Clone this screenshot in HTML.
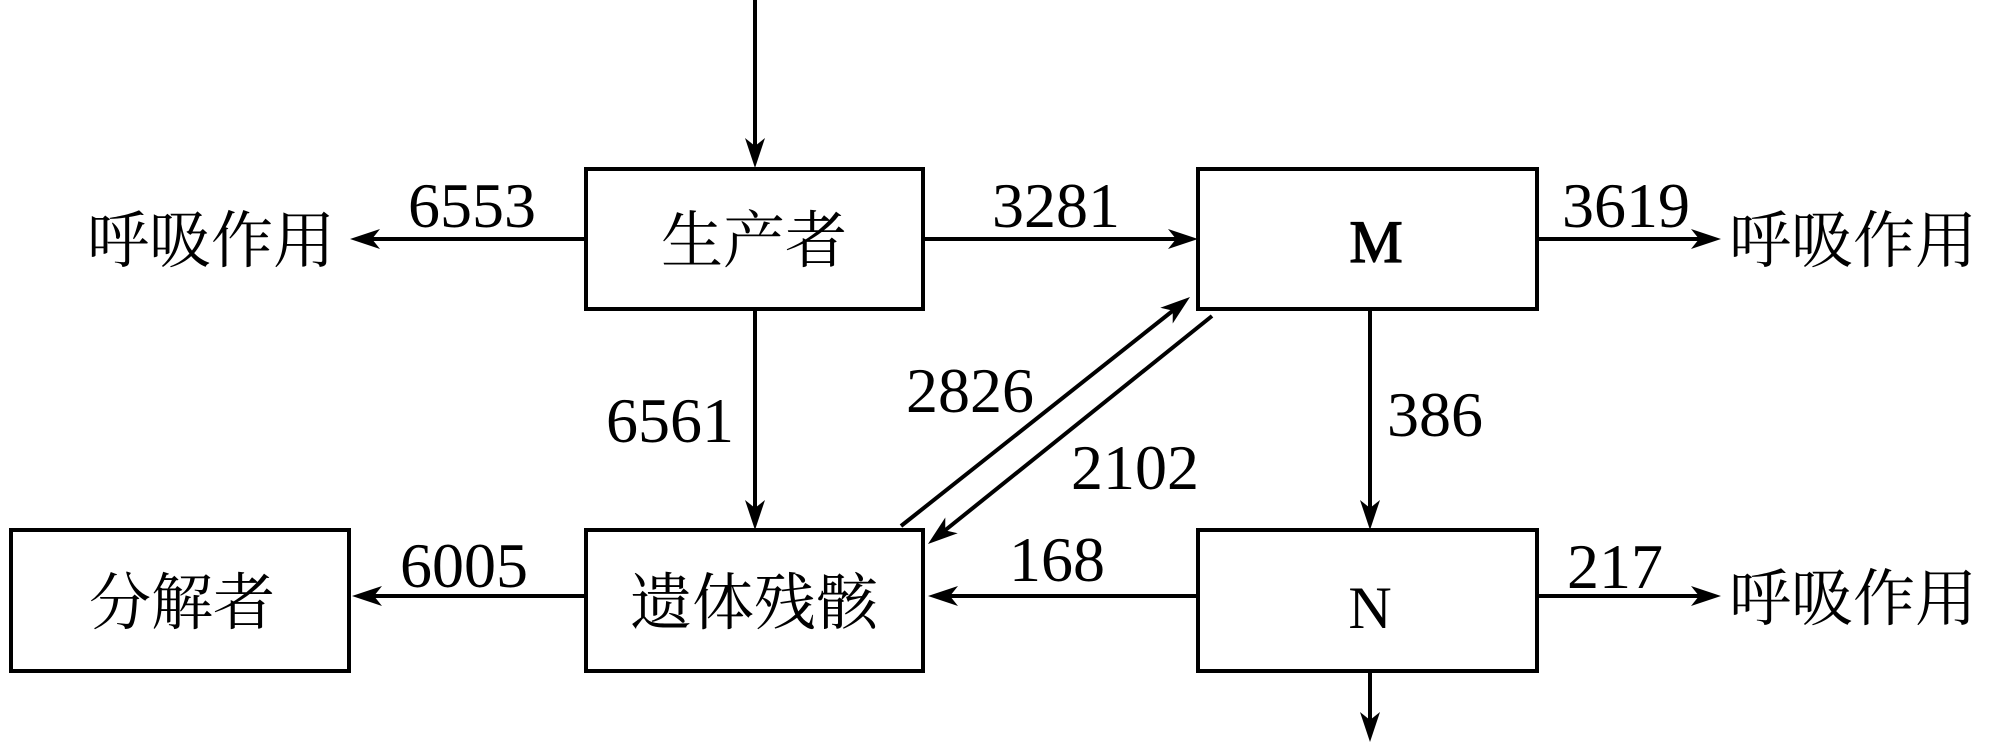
<!DOCTYPE html>
<html><head><meta charset="utf-8"><style>
html,body{margin:0;padding:0;background:#fff;}
svg{display:block;}
text{font-family:"Liberation Serif","Noto Serif CJK SC","Noto Sans CJK SC",serif;fill:#000;}
.cn{font-size:62px;}
.num{font-size:64px;}
</style></head><body>
<svg width="1996" height="750" viewBox="0 0 1996 750" xmlns="http://www.w3.org/2000/svg">
<g stroke="#000" stroke-width="4" fill="none">
<rect x="586" y="169" width="337" height="140"/>
<rect x="1198" y="169" width="339" height="140"/>
<rect x="11" y="530" width="338" height="141"/>
<rect x="586" y="530" width="337" height="141"/>
<rect x="1198" y="530" width="339" height="141"/>
<line x1="755" y1="0" x2="755" y2="150"/>
<line x1="586" y1="239" x2="370" y2="239"/>
<line x1="923" y1="239" x2="1180" y2="239"/>
<line x1="1537" y1="239" x2="1702" y2="239"/>
<line x1="755" y1="309" x2="755" y2="512"/>
<line x1="1370" y1="309" x2="1370" y2="512"/>
<line x1="1198" y1="596" x2="946" y2="596"/>
<line x1="586" y1="596" x2="370" y2="596"/>
<line x1="1537" y1="596" x2="1702" y2="596"/>
<line x1="1370" y1="671" x2="1370" y2="724"/>
<line x1="901" y1="526" x2="1175" y2="309"/>
<line x1="1212" y1="316" x2="943" y2="532"/>
</g>
<g fill="#000">
<polygon points="755,168 745,138 755,146 765,138"/>
<polygon points="350,239 380,229 372,239 380,249"/>
<polygon points="1198,239 1168,229 1176,239 1168,249"/>
<polygon points="1721,239 1691,229 1699,239 1691,249"/>
<polygon points="755,530 745,500 755,508 765,500"/>
<polygon points="1370,530 1360,500 1370,508 1380,500"/>
<polygon points="928,596 958,586 950,596 958,606"/>
<polygon points="352,596 382,586 374,596 382,606"/>
<polygon points="1721,596 1691,586 1699,596 1691,606"/>
<polygon points="1370,742 1360,712 1370,720 1380,712"/>
<g transform="translate(1190,297) rotate(-38.4)"><polygon points="0,0 -30,-10 -22,0 -30,10"/></g>
<g transform="translate(928,544) rotate(141.6)"><polygon points="0,0 -30,-10 -22,0 -30,10"/></g>
</g>
<g class="cn">
<text x="754" y="262" text-anchor="middle">生产者</text>
<text x="754" y="624" text-anchor="middle">遗体残骸</text>
<text x="182" y="624" text-anchor="middle">分解者</text>
<text x="211" y="262" text-anchor="middle">呼吸作用</text>
<text x="1853" y="262" text-anchor="middle">呼吸作用</text>
<text x="1853" y="620" text-anchor="middle">呼吸作用</text>
</g>
<g class="num">
<text x="1376" y="262" text-anchor="middle" font-size="60" stroke="#000" stroke-width="1.2">M</text>
<text x="1370" y="628" text-anchor="middle" font-size="60">N</text>
<text x="472" y="227" text-anchor="middle">6553</text>
<text x="1056" y="227" text-anchor="middle">3281</text>
<text x="1626" y="227" text-anchor="middle">3619</text>
<text x="670" y="442" text-anchor="middle">6561</text>
<text x="970" y="412" text-anchor="middle">2826</text>
<text x="1135" y="489" text-anchor="middle">2102</text>
<text x="1435" y="436" text-anchor="middle">386</text>
<text x="1057" y="581" text-anchor="middle">168</text>
<text x="464" y="587" text-anchor="middle">6005</text>
<text x="1615" y="588" text-anchor="middle">217</text>
</g>
</svg>
</body></html>
